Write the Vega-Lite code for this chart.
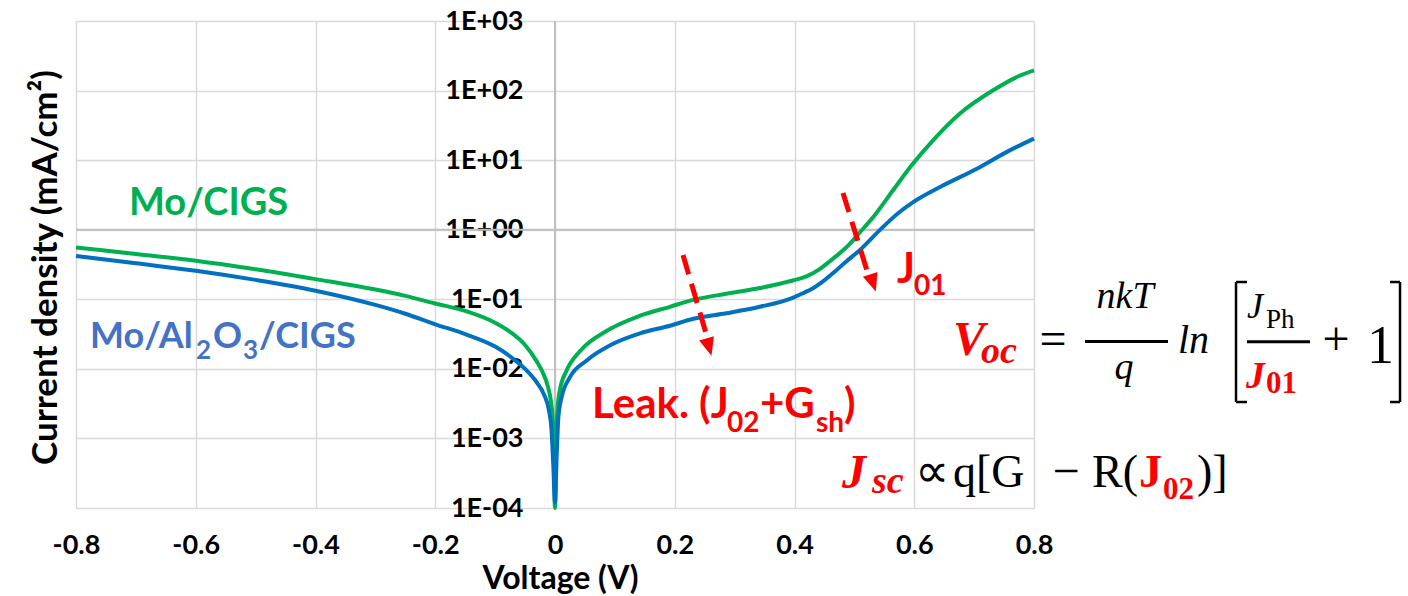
{
  "$schema": "https://vega.github.io/schema/vega-lite/v6.json",
  "autosize": {"type": "none"},
  "width": 958,
  "height": 487,
  "padding": {"left": 76, "top": 21, "right": 374, "bottom": 88},
  "background": "white",
  "config": {"view": {"stroke": null}},
  "encoding": {
    "x": {
      "field": "v", "type": "quantitative",
      "scale": {"domain": [-0.8, 0.8], "nice": false, "zero": false},
      "axis": {
        "values": [-0.8, -0.6, -0.4, -0.2, 0, 0.2, 0.4, 0.6, 0.8],
        "labelExpr": "datum.value == 0 ? '0' : (datum.value < 0 ? '-' : '') + format(abs(datum.value), '.1f')",
        "domain": false, "ticks": false, "tickSize": 0,
        "labelPadding": 45, "labelBaseline": "alphabetic",
        "labelFont": "Lato", "labelFontSize": 27, "labelFontWeight": "bold", "labelColor": "#000000",
        "labelFlush": false, "labelOverlap": false,
        "grid": true, "gridColor": "#d9d9d9", "gridWidth": 1.5,
        "title": "Voltage (V)", "titleFont": "Lato", "titleFontSize": 32, "titleFontWeight": "bold", "titleColor": "#000000",
        "titleX": 484, "titleY": 80, "titleAlign": "center", "titleBaseline": "alphabetic"
      }
    },
    "y": {
      "field": "j", "type": "quantitative",
      "scale": {"type": "log", "domain": [0.0001, 1000], "nice": false},
      "axis": {
        "values": [0.0001, 0.001, 0.01, 0.1, 1, 10, 100, 1000],
        "labelExpr": "'1E' + (datum.value >= 1 ? '+' : '-') + '0' + format(abs(round(log(datum.value) / LN10)), 'd')",
        "offset": -479,
        "domain": false, "ticks": false, "tickSize": 0,
        "labelPadding": 32, "labelAlign": "right", "labelBaseline": "middle",
        "labelFont": "Lato", "labelFontSize": 27, "labelFontWeight": "bold", "labelColor": "#000000",
        "labelOverlap": false,
        "grid": true, "gridColor": "#d9d9d9", "gridWidth": 1.5,
        "title": "Current density (mA/cm²)", "titleFont": "Lato", "titleFontSize": 35, "titleFontWeight": "bold", "titleColor": "#000000",
        "titleX": -510, "titleY": 246, "titleAngle": -90, "titleAlign": "center", "titleBaseline": "middle"
      }
    }
  },
  "layer": [
    {
      "data": {"values": [
        {"v": 0, "v2": 0, "j": 0.0001, "j2": 1000},
        {"v": -0.8, "v2": 0.8, "j": 1, "j2": 1}
      ]},
      "mark": {"type": "rule", "color": "#bfbfbf", "strokeWidth": 2},
      "encoding": {"x2": {"field": "v2"}, "y2": {"field": "j2"}}
    },
    {
      "data": {"values": [
        {"s": "Mo/CIGS", "v": -0.8, "j": 0.557},
        {"s": "Mo/CIGS", "v": -0.7, "j": 0.447},
        {"s": "Mo/CIGS", "v": -0.6, "j": 0.359},
        {"s": "Mo/CIGS", "v": -0.5, "j": 0.27},
        {"s": "Mo/CIGS", "v": -0.4, "j": 0.195},
        {"s": "Mo/CIGS", "v": -0.3, "j": 0.138},
        {"s": "Mo/CIGS", "v": -0.25, "j": 0.112},
        {"s": "Mo/CIGS", "v": -0.2, "j": 0.087},
        {"s": "Mo/CIGS", "v": -0.15, "j": 0.068},
        {"s": "Mo/CIGS", "v": -0.1, "j": 0.046},
        {"s": "Mo/CIGS", "v": -0.075, "j": 0.034},
        {"s": "Mo/CIGS", "v": -0.05, "j": 0.022},
        {"s": "Mo/CIGS", "v": -0.03, "j": 0.0126},
        {"s": "Mo/CIGS", "v": -0.02, "j": 0.0087},
        {"s": "Mo/CIGS", "v": -0.012, "j": 0.0056},
        {"s": "Mo/CIGS", "v": -0.007, "j": 0.0035},
        {"s": "Mo/CIGS", "v": -0.004, "j": 0.002},
        {"s": "Mo/CIGS", "v": -0.002, "j": 0.0008},
        {"s": "Mo/CIGS", "v": 0, "j": 0.0001},
        {"s": "Mo/CIGS", "v": 0.002, "j": 0.0008},
        {"s": "Mo/CIGS", "v": 0.004, "j": 0.0025},
        {"s": "Mo/CIGS", "v": 0.008, "j": 0.0049},
        {"s": "Mo/CIGS", "v": 0.019, "j": 0.0093},
        {"s": "Mo/CIGS", "v": 0.042, "j": 0.018},
        {"s": "Mo/CIGS", "v": 0.086, "j": 0.035},
        {"s": "Mo/CIGS", "v": 0.142, "j": 0.058},
        {"s": "Mo/CIGS", "v": 0.192, "j": 0.078},
        {"s": "Mo/CIGS", "v": 0.231, "j": 0.098},
        {"s": "Mo/CIGS", "v": 0.286, "j": 0.12},
        {"s": "Mo/CIGS", "v": 0.342, "j": 0.145},
        {"s": "Mo/CIGS", "v": 0.397, "j": 0.186},
        {"s": "Mo/CIGS", "v": 0.42, "j": 0.214},
        {"s": "Mo/CIGS", "v": 0.442, "j": 0.272},
        {"s": "Mo/CIGS", "v": 0.458, "j": 0.347},
        {"s": "Mo/CIGS", "v": 0.475, "j": 0.457},
        {"s": "Mo/CIGS", "v": 0.492, "j": 0.622},
        {"s": "Mo/CIGS", "v": 0.508, "j": 0.89},
        {"s": "Mo/CIGS", "v": 0.536, "j": 1.7},
        {"s": "Mo/CIGS", "v": 0.564, "j": 3.63},
        {"s": "Mo/CIGS", "v": 0.597, "j": 8.7},
        {"s": "Mo/CIGS", "v": 0.631, "j": 19.1},
        {"s": "Mo/CIGS", "v": 0.675, "j": 45.7},
        {"s": "Mo/CIGS", "v": 0.731, "j": 100},
        {"s": "Mo/CIGS", "v": 0.775, "j": 162},
        {"s": "Mo/CIGS", "v": 0.8, "j": 195},
        {"s": "Mo/Al2O3/CIGS", "v": -0.8, "j": 0.42},
        {"s": "Mo/Al2O3/CIGS", "v": -0.7, "j": 0.33},
        {"s": "Mo/Al2O3/CIGS", "v": -0.6, "j": 0.257},
        {"s": "Mo/Al2O3/CIGS", "v": -0.5, "j": 0.19},
        {"s": "Mo/Al2O3/CIGS", "v": -0.4, "j": 0.133},
        {"s": "Mo/Al2O3/CIGS", "v": -0.3, "j": 0.083},
        {"s": "Mo/Al2O3/CIGS", "v": -0.25, "j": 0.062},
        {"s": "Mo/Al2O3/CIGS", "v": -0.2, "j": 0.0437},
        {"s": "Mo/Al2O3/CIGS", "v": -0.15, "j": 0.0316},
        {"s": "Mo/Al2O3/CIGS", "v": -0.1, "j": 0.0209},
        {"s": "Mo/Al2O3/CIGS", "v": -0.075, "j": 0.0151},
        {"s": "Mo/Al2O3/CIGS", "v": -0.05, "j": 0.01},
        {"s": "Mo/Al2O3/CIGS", "v": -0.03, "j": 0.0063},
        {"s": "Mo/Al2O3/CIGS", "v": -0.019, "j": 0.0044},
        {"s": "Mo/Al2O3/CIGS", "v": -0.01, "j": 0.0025},
        {"s": "Mo/Al2O3/CIGS", "v": -0.006, "j": 0.0014},
        {"s": "Mo/Al2O3/CIGS", "v": -0.003, "j": 0.00044},
        {"s": "Mo/Al2O3/CIGS", "v": 0, "j": 0.00012},
        {"s": "Mo/Al2O3/CIGS", "v": 0.003, "j": 0.00063},
        {"s": "Mo/Al2O3/CIGS", "v": 0.0056, "j": 0.002},
        {"s": "Mo/Al2O3/CIGS", "v": 0.011, "j": 0.0039},
        {"s": "Mo/Al2O3/CIGS", "v": 0.025, "j": 0.0076},
        {"s": "Mo/Al2O3/CIGS", "v": 0.053, "j": 0.0132},
        {"s": "Mo/Al2O3/CIGS", "v": 0.097, "j": 0.0229},
        {"s": "Mo/Al2O3/CIGS", "v": 0.142, "j": 0.0324},
        {"s": "Mo/Al2O3/CIGS", "v": 0.192, "j": 0.0417},
        {"s": "Mo/Al2O3/CIGS", "v": 0.231, "j": 0.0525},
        {"s": "Mo/Al2O3/CIGS", "v": 0.286, "j": 0.063},
        {"s": "Mo/Al2O3/CIGS", "v": 0.342, "j": 0.078},
        {"s": "Mo/Al2O3/CIGS", "v": 0.397, "j": 0.105},
        {"s": "Mo/Al2O3/CIGS", "v": 0.414, "j": 0.122},
        {"s": "Mo/Al2O3/CIGS", "v": 0.431, "j": 0.144},
        {"s": "Mo/Al2O3/CIGS", "v": 0.447, "j": 0.179},
        {"s": "Mo/Al2O3/CIGS", "v": 0.469, "j": 0.257},
        {"s": "Mo/Al2O3/CIGS", "v": 0.486, "j": 0.347},
        {"s": "Mo/Al2O3/CIGS", "v": 0.508, "j": 0.5},
        {"s": "Mo/Al2O3/CIGS", "v": 0.542, "j": 0.98},
        {"s": "Mo/Al2O3/CIGS", "v": 0.575, "j": 1.78},
        {"s": "Mo/Al2O3/CIGS", "v": 0.597, "j": 2.45},
        {"s": "Mo/Al2O3/CIGS", "v": 0.647, "j": 4.27},
        {"s": "Mo/Al2O3/CIGS", "v": 0.703, "j": 7.41},
        {"s": "Mo/Al2O3/CIGS", "v": 0.758, "j": 13.6},
        {"s": "Mo/Al2O3/CIGS", "v": 0.8, "j": 20.4}
      ]},
      "mark": {"type": "line", "interpolate": "monotone", "strokeWidth": 4},
      "encoding": {
        "color": {"field": "s", "type": "nominal", "scale": {"domain": ["Mo/CIGS", "Mo/Al2O3/CIGS"], "range": ["#00B050", "#0070C0"]}, "legend": null},
        "order": {"field": "v", "type": "quantitative"}
      }
    },
    {
      "data": {"values": [
        {"name": "leak", "v": 0.2138, "j": 0.4329, "v2": 0.2555, "j2": 0.02598},
        {"name": "j01", "v": 0.481, "j": 3.37, "v2": 0.5244, "j2": 0.209}
      ]},
      "mark": {"type": "rule", "color": "#FF0000", "strokeWidth": 5, "strokeDash": [20, 10]},
      "encoding": {"x2": {"field": "v2"}, "y2": {"field": "j2"}}
    },
    {
      "data": {"values": [{"name": "leak", "v": 0.2572, "j": 0.0206}]},
      "mark": {"type": "point", "shape": "M-0.85,-1L0.85,-1L0,1Z", "filled": true, "color": "#FF0000", "opacity": 1, "size": 324, "angle": -16},
      "encoding": {}
    },
    {
      "data": {"values": [{"name": "j01", "v": 0.5311, "j": 0.1714}]},
      "mark": {"type": "point", "shape": "M-0.85,-1L0.85,-1L0,1Z", "filled": true, "color": "#FF0000", "opacity": 1, "size": 324, "angle": -18},
      "encoding": {}
    },
    {
      "data": {"values": [
        {"v": 0.8852, "v2": 1.0238, "j": 0.02472, "j2": 0.02472},
        {"v": 1.1557, "v2": 1.261, "j": 0.02444, "j2": 0.02444}
      ]},
      "mark": {"type": "rule", "color": "#000000", "strokeWidth": 3},
      "encoding": {"x2": {"field": "v2"}, "y2": {"field": "j2"}}
    },
    {
      "data": {"values": [
        {"v": 1.1374, "v2": 1.1374, "j": 0.1771, "j2": 0.003337},
        {"v": 1.1374, "v2": 1.1557, "j": 0.1771, "j2": 0.1771},
        {"v": 1.1374, "v2": 1.1557, "j": 0.003337, "j2": 0.003337},
        {"v": 1.4113, "v2": 1.4113, "j": 0.1771, "j2": 0.003337},
        {"v": 1.3946, "v2": 1.4113, "j": 0.1771, "j2": 0.1771},
        {"v": 1.3946, "v2": 1.4113, "j": 0.003337, "j2": 0.003337}
      ]},
      "mark": {"type": "rule", "color": "#000000", "strokeWidth": 2.5},
      "encoding": {"x2": {"field": "v2"}, "y2": {"field": "j2"}}
    },
    {
      "data": {"values": [{"v": -0.7115, "j": 1.627, "txt": "Mo/CIGS"}]},
      "mark": {"type": "text", "font": "Lato", "fontWeight": "bold", "fontSize": 38, "color": "#00B050", "align": "left", "baseline": "alphabetic"},
      "encoding": {"text": {"field": "txt"}}
    },
    {
      "data": {"values": [
        {"v": -0.7766, "j": 0.01994, "txt": "Mo/Al"},
        {"v": -0.5712, "j": 0.01994, "txt": "O"},
        {"v": -0.4944, "j": 0.01994, "txt": "/CIGS"}
      ]},
      "mark": {"type": "text", "font": "Lato", "fontWeight": "bold", "fontSize": 36, "color": "#4472C4", "align": "left", "baseline": "alphabetic"},
      "encoding": {"text": {"field": "txt"}}
    },
    {
      "data": {"values": [
        {"v": -0.5996, "j": 0.01385, "txt": "2"},
        {"v": -0.5211, "j": 0.01385, "txt": "3"}
      ]},
      "mark": {"type": "text", "font": "Lato", "fontWeight": "bold", "fontSize": 26, "color": "#4472C4", "align": "left", "baseline": "alphabetic"},
      "encoding": {"text": {"field": "txt"}}
    },
    {
      "data": {"values": [
        {"v": 0.0618, "j": 0.001965, "txt": "Leak. (J"},
        {"v": 0.3424, "j": 0.001965, "txt": "+G"},
        {"v": 0.4827, "j": 0.001965, "txt": ")"},
        {"v": 0.5712, "j": 0.1714, "txt": "J"}
      ]},
      "mark": {"type": "text", "font": "Lato", "fontWeight": "bold", "fontSize": 42, "color": "#FF0000", "align": "left", "baseline": "alphabetic"},
      "encoding": {"text": {"field": "txt"}}
    },
    {
      "data": {"values": [
        {"v": 0.2873, "j": 0.001236, "txt": "02"},
        {"v": 0.4359, "j": 0.001236, "txt": "sh"},
        {"v": 0.5996, "j": 0.1151, "txt": "01"}
      ]},
      "mark": {"type": "text", "font": "Lato", "fontWeight": "bold", "fontSize": 28, "color": "#FF0000", "align": "left", "baseline": "alphabetic"},
      "encoding": {"text": {"field": "txt"}}
    },
    {
      "data": {"values": [
        {"v": 0.6647, "j": 0.01581, "txt": "V"},
        {"v": 0.4793, "j": 0.0001938, "txt": "J"}
      ]},
      "mark": {"type": "text", "font": "Liberation Serif", "fontWeight": "bold", "fontStyle": "italic", "fontSize": 48, "color": "#FF0000", "align": "left", "baseline": "alphabetic"},
      "encoding": {"text": {"field": "txt"}}
    },
    {
      "data": {"values": [
        {"v": 0.7115, "j": 0.01213, "txt": "oc"},
        {"v": 0.5295, "j": 0.0001642, "txt": "sc"}
      ]},
      "mark": {"type": "text", "font": "Liberation Serif", "fontWeight": "bold", "fontStyle": "italic", "fontSize": 38, "color": "#FF0000", "align": "left", "baseline": "alphabetic"},
      "encoding": {"text": {"field": "txt"}}
    },
    {
      "data": {"values": [
        {"v": 0.952, "j": 0.07489, "txt": "nkT"},
        {"v": 0.9503, "j": 0.007145, "txt": "q"}
      ]},
      "mark": {"type": "text", "font": "Liberation Serif", "fontStyle": "italic", "fontSize": 38, "color": "#000000", "align": "center", "baseline": "alphabetic"},
      "encoding": {"text": {"field": "txt"}}
    },
    {
      "data": {"values": [{"v": 1.0405, "j": 0.01689, "txt": "ln"}]},
      "mark": {"type": "text", "font": "Liberation Serif", "fontStyle": "italic", "fontSize": 40, "color": "#000000", "align": "left", "baseline": "alphabetic"},
      "encoding": {"text": {"field": "txt"}}
    },
    {
      "data": {"values": [{"v": 1.1558, "j": 0.05379, "txt": "J"}]},
      "mark": {"type": "text", "font": "Liberation Serif", "fontStyle": "italic", "fontSize": 36, "color": "#000000", "align": "left", "baseline": "alphabetic"},
      "encoding": {"text": {"field": "txt"}}
    },
    {
      "data": {"values": [{"v": 1.1875, "j": 0.03864, "txt": "Ph"}]},
      "mark": {"type": "text", "font": "Liberation Serif", "fontSize": 27, "color": "#000000", "align": "left", "baseline": "alphabetic"},
      "encoding": {"text": {"field": "txt"}}
    },
    {
      "data": {"values": [{"v": 1.1541, "j": 0.005305, "txt": "J"}]},
      "mark": {"type": "text", "font": "Liberation Serif", "fontWeight": "bold", "fontStyle": "italic", "fontSize": 38, "color": "#FF0000", "align": "left", "baseline": "alphabetic"},
      "encoding": {"text": {"field": "txt"}}
    },
    {
      "data": {"values": [
        {"v": 1.1875, "j": 0.004494, "txt": "01"},
        {"v": 1.0154, "j": 0.0001346, "txt": "02"}
      ]},
      "mark": {"type": "text", "font": "Liberation Serif", "fontWeight": "bold", "fontSize": 31, "color": "#FF0000", "align": "left", "baseline": "alphabetic"},
      "encoding": {"text": {"field": "txt"}}
    },
    {
      "data": {"values": [{"v": 0.9753, "j": 0.0002002, "txt": "J"}]},
      "mark": {"type": "text", "font": "Liberation Serif", "fontWeight": "bold", "fontSize": 46, "color": "#FF0000", "align": "left", "baseline": "alphabetic"},
      "encoding": {"text": {"field": "txt"}}
    },
    {
      "data": {"values": [
        {"v": 0.8317, "j": 0.01581, "txt": "="},
        {"v": 1.3044, "j": 0.01581, "txt": "+"},
        {"v": 0.6296, "j": 0.0002002, "txt": "∝"},
        {"v": 0.8534, "j": 0.0002002, "txt": "−"}
      ]},
      "mark": {"type": "text", "font": "Liberation Serif", "fontSize": 48, "color": "#000000", "align": "center", "baseline": "alphabetic"},
      "encoding": {"text": {"field": "txt"}}
    },
    {
      "data": {"values": [
        {"v": 0.6647, "j": 0.0002002, "txt": "q[G"},
        {"v": 0.8969, "j": 0.0002002, "txt": "R("},
        {"v": 1.0723, "j": 0.0002002, "txt": ")]"}
      ]},
      "mark": {"type": "text", "font": "Liberation Serif", "fontSize": 46, "color": "#000000", "align": "left", "baseline": "alphabetic"},
      "encoding": {"text": {"field": "txt"}}
    },
    {
      "data": {"values": [{"v": 1.3562, "j": 0.01213, "txt": "1"}]},
      "mark": {"type": "text", "font": "Liberation Serif", "fontSize": 54, "color": "#000000", "align": "left", "baseline": "alphabetic"},
      "encoding": {"text": {"field": "txt"}}
    }
  ]
}
